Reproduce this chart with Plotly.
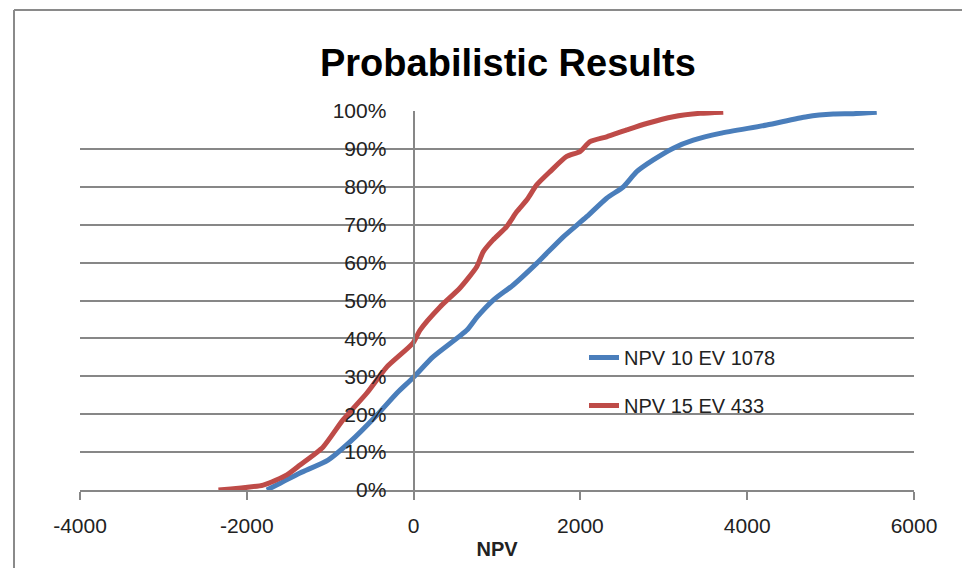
import plotly.graph_objects as go

# Data (NPV vs cumulative probability)
npv10_x = [-1760, -1600, -1362, -1026, -763, -439, -199, -7, 233, 640, 760, 956, 1195,
           1476, 1795, 2075, 2315, 2515, 2675, 2874, 3114, 3354, 3674, 4234, 4714,
           5033, 5270, 5553]
npv10_p = [0.0, 1.8, 4.5, 7.9, 12.7, 19.8, 25.6, 29.6, 35.1, 42.2, 45.6, 50.1, 54.1,
           59.8, 66.8, 72.1, 77.0, 80.0, 84.0, 87.1, 90.2, 92.3, 94.1, 96.3, 98.5,
           99.2, 99.3, 99.7]
npv15_x = [-2340, -1804, -1520, -1362, -1087, -847, -560, -320, -7, 77, 317, 556, 757,
           836, 953, 1116, 1236, 1356, 1476, 1636, 1836, 1995, 2115, 2315, 2555, 2795,
           3114, 3434, 3713]
npv15_p = [0.0, 1.3, 4.0, 6.6, 11.3, 18.5, 25.6, 32.5, 38.8, 42.2, 48.3, 53.3, 58.9,
           62.9, 66.0, 69.5, 73.4, 76.5, 80.5, 84.0, 88.0, 89.3, 91.9, 93.2, 95.0, 96.7,
           98.5, 99.4, 99.7]
series_names = ["NPV 10 EV 1078", "NPV 15 EV 433"]
x_ticks = [-4000, -2000, 0, 2000, 4000, 6000]
x_tick_text = ["-4000", "-2000", "0", "2000", "4000", "6000"]
y_ticks = [0, 0.1, 0.2, 0.3, 0.4, 0.5, 0.6, 0.7, 0.8, 0.9, 1.0]

BLUE = "#4A7EBB"
RED = "#BE4B48"
GRID = "#878787"
FONT = "Liberation Sans Narrow, Liberation Sans, Arial, sans-serif"

fig = go.Figure()
fig.add_trace(go.Scatter(x=npv10_x, y=[v / 100 for v in npv10_p], mode="lines",
                         name=series_names[0], legendgroup="a",
                         line=dict(color=BLUE, width=5, shape="spline", smoothing=0.6)))
fig.add_trace(go.Scatter(x=npv15_x, y=[v / 100 for v in npv15_p], mode="lines",
                         name=series_names[1], legendgroup="b",
                         line=dict(color=RED, width=5, shape="spline", smoothing=0.6)))

fig.update_layout(
    width=962, height=568,
    margin=dict(l=80, r=48, t=111, b=78),
    paper_bgcolor="white", plot_bgcolor="white",
    title=dict(text="<b>Probabilistic Results</b>", x=0.528, xanchor="center",
               y=0.89, yanchor="middle",
               font=dict(family=FONT, size=38, color="black")),
    font=dict(family=FONT, color="#222"),
    showlegend=True,
    legend=dict(x=(584 - 80) / 834, y=(490 - 338) / 379, xanchor="left", yanchor="top",
                bgcolor="rgba(0,0,0,0)", tracegroupgap=19,
                font=dict(family="Liberation Sans, Arial, sans-serif", size=20, color="#222")),
    xaxis=dict(range=[-4000, 6000], tickvals=x_ticks, ticktext=x_tick_text,
               showgrid=False, zeroline=False,
               showline=True, linecolor=GRID, linewidth=2,
               ticks="outside", ticklen=8, tickwidth=2, tickcolor=GRID,
               ticklabelstandoff=8,
               tickfont=dict(size=21, color="#222"),
               title=dict(text="<b>NPV</b>", font=dict(size=20, color="#222"), standoff=6)),
    yaxis=dict(range=[0, 1], tickvals=y_ticks, tickformat=".0%",
               showgrid=True, gridcolor=GRID, gridwidth=2, zeroline=False,
               showline=True, linecolor=GRID, linewidth=2,
               anchor="free", position=0.4, ticks="outside", ticklen=22,
               tickcolor="rgba(0,0,0,0)",
               tickfont=dict(size=21, color="#222")),
    shapes=[
        dict(type="line", xref="paper", yref="paper", x0=(14 - 80) / 834, x1=1.1,
             y0=(490 - 10) / 379, y1=(490 - 10) / 379, line=dict(color="#8a8a8a", width=2)),
        dict(type="line", xref="paper", yref="paper", x0=(14 - 80) / 834, x1=(14 - 80) / 834,
             y0=(490 - 10) / 379, y1=-0.3, line=dict(color="#8a8a8a", width=2)),
    ],
)

fig.write_html("out.html")
